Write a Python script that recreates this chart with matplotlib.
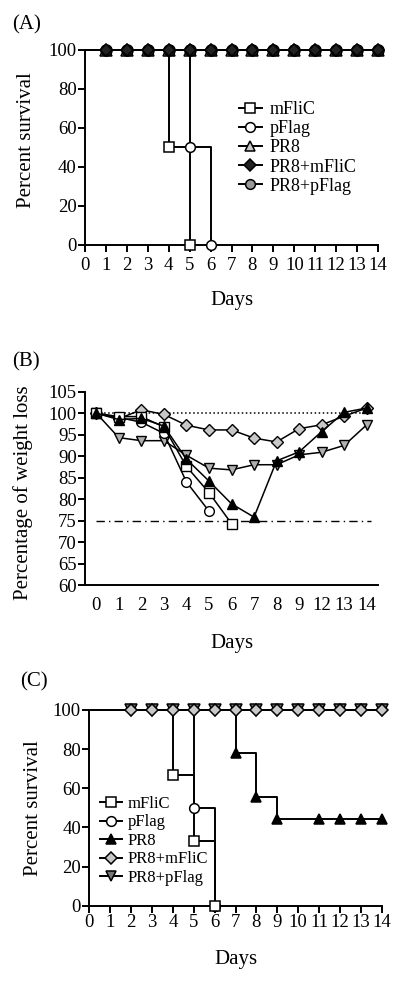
import matplotlib
matplotlib.use("Agg")
import matplotlib.pyplot as plt
import numpy as np

plt.rcParams['font.family'] = ['Liberation Serif', 'DejaVu Serif']
plt.rcParams['axes.linewidth'] = 1.4
plt.rcParams['xtick.major.width'] = 1.4
plt.rcParams['ytick.major.width'] = 1.4
plt.rcParams['xtick.minor.width'] = 1.4

TICK_SIZE = 13.5
LABEL_SIZE = 15
LW = 1.4

# ---------------- data ----------------
# (A) survival
a_days_all = list(range(0, 15))
a_mflic_days = [0, 4, 5]
a_mflic_pct = [100, 50, 0]
a_pflag_days = [0, 5, 6]
a_pflag_pct = [100, 50, 0]
a_pr8_pct = [100] * 15
a_pr8_mflic_pct = [100] * 15
a_pr8_pflag_pct = [100] * 15

# (B) weight
b_days = ["0", "1", "2", "3", "4", "5", "6", "7", "8", "9", "12", "13", "14"]
b_mflic = [100, 99.2, 99.2, 96.8, 87.6, 81.5, 74.3]
b_pflag = [100, 99.0, 97.9, 95.3, 84.0, 77.2]
b_pr8 = [100, 98.5, 98.8, 97.0, 89.3, 84.2, 78.9, 75.8, 88.9, 91.0, 95.7, 100.2, 101.2]
b_pr8_mflic = [100, 98.7, 100.8, 99.7, 97.2, 96.1, 96.1, 94.2, 93.3, 96.4, 97.3, 99.3, 101.2]
b_pr8_pflag = [100, 94.3, 93.6, 93.6, 90.2, 87.2, 86.8, 88.0, 88.0, 90.3, 90.9, 92.5, 97.3]

# (C) survival
c_mflic_days = [0, 4, 5, 6]
c_mflic_pct = [100, 66.7, 33.3, 0]
c_pflag_days = [0, 5, 6]
c_pflag_pct = [100, 50, 0]
c_pr8_days = [0, 7, 8, 9, 11, 12, 13, 14]
c_pr8_pct = [100, 77.8, 55.6, 44.4, 44.4, 44.4, 44.4, 44.4]
c_days_all = [0, 2, 3, 4, 5, 6, 7, 8, 9, 10, 11, 12, 13, 14]
c_pr8_mflic_pct = [100] * 14
c_pr8_pflag_pct = [100] * 14

W, H = 400, 981
fig = plt.figure(figsize=(W / 100, H / 100), dpi=100)


def add_ax(left, right, top, bottom):
    return fig.add_axes([left / W, 1 - bottom / H, (right - left) / W, (bottom - top) / H])


def style(ax):
    for s in ['top', 'right']:
        ax.spines[s].set_visible(False)
    ax.tick_params(direction='out', length=5, labelsize=TICK_SIZE, pad=1)


def surv(ax, days, pct, marker, fc, ms=7, z=3):
    ax.plot(days, pct, drawstyle='steps-post', color='black', lw=LW, zorder=2, clip_on=False)
    ax.plot(days[1:], pct[1:], ls='none', marker=marker, mfc=fc, mec='black',
            mew=1.1, ms=ms, zorder=z, clip_on=False)


def leg_handle(ax, marker, fc, label, ms=7):
    ax.plot([], [], color='black', lw=LW, marker=marker, mfc=fc, mec='black', mew=1.1,
            ms=ms, label=label)


# ---------------- (A) ----------------
axA = add_ax(85, 378, 50, 245)
style(axA)
axA.set_xlim(0, 14)
axA.set_ylim(0, 100)
surv(axA, a_mflic_days, a_mflic_pct, 's', 'white')
surv(axA, a_pflag_days, a_pflag_pct, 'o', 'white')
surv(axA, a_days_all, a_pr8_pct, '^', '#c8c8c8', ms=8.5, z=3)
surv(axA, a_days_all, a_pr8_pflag_pct, 'o', '#444444', ms=8, z=4)
surv(axA, a_days_all, a_pr8_mflic_pct, 'D', '#222222', ms=6, z=5)
axA.set_xticks(range(0, 15))
axA.set_yticks(range(0, 101, 20))
axA.tick_params(axis='x', pad=4)
axA.set_xlabel('Days', fontsize=LABEL_SIZE, labelpad=12)
axA.set_ylabel('Percent survival', fontsize=LABEL_SIZE)
axA.yaxis.set_label_coords(-0.167, 0.54)
leg_handle(axA, 's', 'white', 'mFliC')
leg_handle(axA, 'o', 'white', 'pFlag')
leg_handle(axA, '^', '#c8c8c8', 'PR8')
leg_handle(axA, 'D', '#222222', 'PR8+mFliC', ms=6)
leg_handle(axA, 'o', '#999999', 'PR8+pFlag')
axA.legend(loc='upper left', bbox_to_anchor=(0.50, 0.775), frameon=False, fontsize=13,
           handlelength=1.3, handletextpad=0.4, labelspacing=0.12, borderaxespad=0)
fig.text(12 / W, 1 - 25 / H, '(A)', fontsize=LABEL_SIZE, va='center', ha='left')

# ---------------- (B) ----------------
axB = add_ax(85, 378, 391.7, 585)
style(axB)
xb = np.arange(len(b_days))
axB.set_xlim(-0.5, len(b_days) - 0.5)
axB.set_ylim(60, 105)
axB.set_yticks(range(60, 106, 5))
axB.set_xticks(xb)
axB.set_xticklabels(b_days)
axB.tick_params(axis='x', length=0, pad=9)
axB.set_xticks(xb[2:], minor=True)
axB.tick_params(axis='x', which='minor', length=5, direction='out')
axB.plot([0, 12.2], [100, 100], ls=':', color='black', lw=1.1, zorder=1)
axB.plot([0, 12.2], [75, 75], ls='-.', color='black', lw=1.0, zorder=1, dashes=(6, 3, 1, 3))
ln = dict(color='black', lw=1.1, mec='black', mew=1.0, ms=7, clip_on=False)
axB.plot(xb[:len(b_pr8_pflag)], b_pr8_pflag, marker='v', mfc='#b0b0b0', zorder=3, **ln)
axB.plot(xb[:len(b_pr8_mflic)], b_pr8_mflic, marker='D', mfc='#c8c8c8', zorder=4,
         **{**ln, 'ms': 6.5})
axB.plot(xb[:len(b_pflag)], b_pflag, marker='o', mfc='white', zorder=5, **ln)
axB.plot(xb[:len(b_mflic)], b_mflic, marker='s', mfc='white', zorder=6, **ln)
axB.plot(xb[:len(b_pr8)], b_pr8, marker='^', mfc='black', zorder=7, **ln)
axB.set_xlabel('Days', fontsize=LABEL_SIZE, labelpad=14)
axB.set_ylabel('Percentage of weight loss', fontsize=LABEL_SIZE)
axB.yaxis.set_label_coords(-0.177, 0.48)
fig.text(12 / W, 1 - 362 / H, '(B)', fontsize=LABEL_SIZE, va='center', ha='left')

# ---------------- (C) ----------------
axC = add_ax(89.3, 381.7, 710, 905.7)
style(axC)
axC.set_xlim(0, 14)
axC.set_ylim(0, 100)
surv(axC, c_days_all, c_pr8_pflag_pct, 'v', '#777777', ms=8, z=3)
surv(axC, c_days_all, c_pr8_mflic_pct, 'D', '#c8c8c8', ms=6.5, z=4)
surv(axC, c_pflag_days, c_pflag_pct, 'o', 'white', z=5)
surv(axC, c_mflic_days, c_mflic_pct, 's', 'white', z=6)
surv(axC, c_pr8_days, c_pr8_pct, '^', 'black', z=5)
axC.set_xticks(range(0, 15))
axC.set_yticks(range(0, 101, 20))
axC.set_xlabel('Days', fontsize=LABEL_SIZE, labelpad=14)
axC.set_ylabel('Percent survival', fontsize=LABEL_SIZE)
axC.yaxis.set_label_coords(-0.158, 0.5)
leg_handle(axC, 's', 'white', 'mFliC')
leg_handle(axC, 'o', 'white', 'pFlag')
leg_handle(axC, '^', 'black', 'PR8')
leg_handle(axC, 'D', '#c8c8c8', 'PR8+mFliC', ms=6.5)
leg_handle(axC, 'v', '#777777', 'PR8+pFlag')
axC.legend(loc='upper left', bbox_to_anchor=(0.015, 0.595), frameon=False, fontsize=12,
           handlelength=1.3, handletextpad=0.35, labelspacing=0.15, borderaxespad=0)
fig.text(20 / W, 1 - 682 / H, '(C)', fontsize=LABEL_SIZE, va='center', ha='left')

fig.savefig('out.png', dpi=100)
